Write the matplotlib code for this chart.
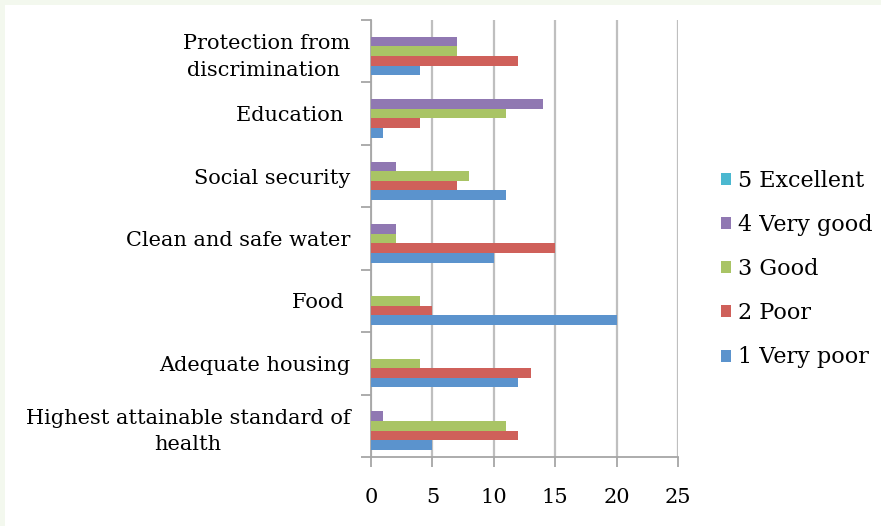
import matplotlib
matplotlib.use("Agg")
import matplotlib.pyplot as plt
import numpy as np
from matplotlib.patches import Rectangle

categories = ["Highest attainable standard of\nhealth", "Adequate housing", "Food ",
              "Clean and safe water", "Social security", "Education ",
              "Protection from\ndiscrimination "]
series_names = ["1 Very poor", "2 Poor", "3 Good", "4 Very good", "5 Excellent"]
very_poor = [5, 12, 20, 10, 11, 1, 4]
poor = [12, 13, 5, 15, 7, 4, 12]
good = [11, 4, 4, 2, 8, 11, 7]
very_good = [1, 0, 0, 2, 2, 14, 7]
excellent = [0, 0, 0, 0, 0, 0, 0]
colors = ["#5B93CD", "#CF605A", "#A9C465", "#9078B2", "#4BB8D0"]
xticks = [0, 5, 10, 15, 20, 25]

plt.rcParams['font.family'] = ['DejaVu Serif']
fig = plt.figure(figsize=(8.81, 5.26), dpi=100)
fig.patches.append(Rectangle((0, 0), 1, 1, transform=fig.transFigure,
                             facecolor="#F3F8EE", edgecolor="none", zorder=-10))
fig.patches.append(Rectangle((5/881, 0), 1, 1 - 5/526, transform=fig.transFigure,
                             facecolor="white", edgecolor="none", zorder=-9))
ax = fig.add_axes([371/881, 1 - 457/526, (678-371)/881, (457-20)/526])
ax.set_facecolor("none")

data = [very_poor, poor, good, very_good, excellent]
n = len(series_names)
h = 1 / (n + 1.5)
y = np.arange(len(categories))
for i, (vals, name, c) in enumerate(zip(data, series_names, colors)):
    ax.barh(y + (i - (n - 1) / 2) * h, vals, height=h, color=c, label=name, zorder=3)

ax.set_xlim(0, 25)
ax.set_ylim(-0.5, len(categories) - 0.5)
ax.set_xticks(xticks)
ax.set_xticklabels([str(t) for t in xticks], fontsize=15)
ax.xaxis.grid(True, color="#BFBFBF", linewidth=1.6, zorder=0)
ax.set_yticks(y)
ax.set_yticklabels(categories, fontsize=15, linespacing=1.5, multialignment="center")
ax.set_yticks(np.arange(-0.5, len(categories)), minor=True)
ax.tick_params(axis='y', which='major', length=0, pad=15)
ax.tick_params(axis='y', which='minor', length=7, color="#A6A6A6", width=1.3)
ax.tick_params(axis='x', length=7, color="#A6A6A6", width=1.3, pad=15)
for s in ["top", "right"]:
    ax.spines[s].set_visible(False)
for s in ["left", "bottom"]:
    ax.spines[s].set_color("#A6A6A6")
    ax.spines[s].set_linewidth(1.3)

handles, labels = ax.get_legend_handles_labels()
leg = fig.legend(handles[::-1], labels[::-1], loc="center left",
                 bbox_to_anchor=(712/881, 1 - 269/526), frameon=False,
                 fontsize=16, handlelength=0.45, handleheight=0.45,
                 handletextpad=0.3, labelspacing=1.0, borderaxespad=0)

fig.savefig("out.png", dpi=100)
